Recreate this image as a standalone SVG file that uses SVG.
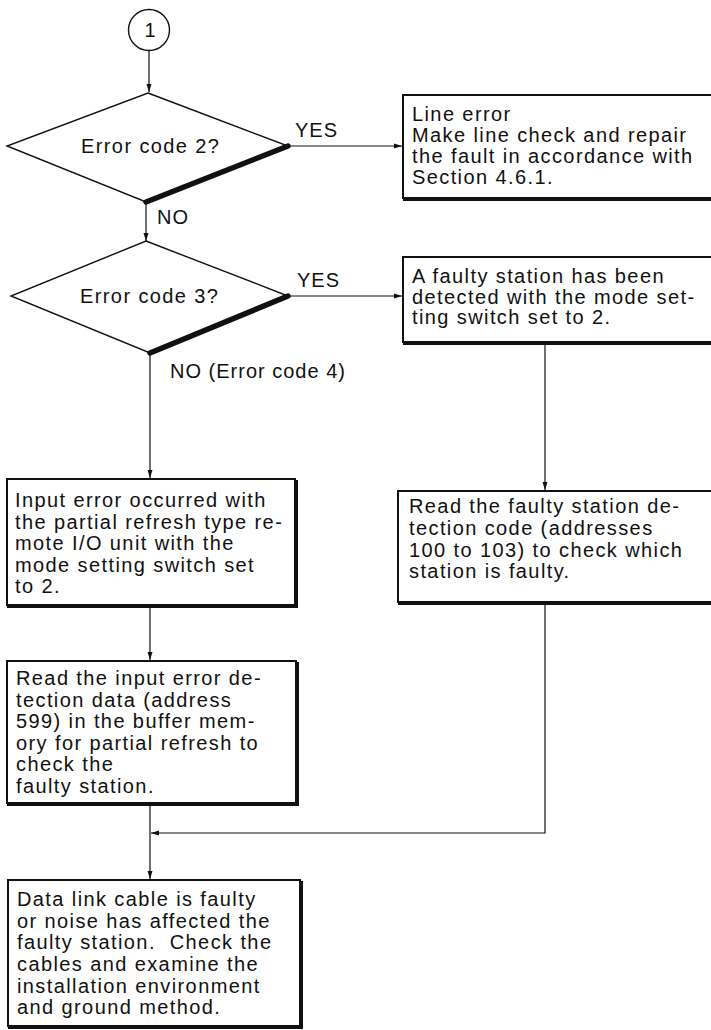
<svg xmlns="http://www.w3.org/2000/svg" width="711" height="1030" viewBox="0 0 711 1030">
<style>
text{font-family:"Liberation Sans",Arial,sans-serif;font-size:20px;letter-spacing:1.4px;fill:#111}
.lbl{font-size:20px;letter-spacing:1px}
.shape{fill:#fff;stroke:#111;stroke-width:1.4}
.box{fill:#fff;stroke:#111;stroke-width:2}
.shadow{fill:none;stroke:#111;stroke-width:4}
.thick{stroke:#111;stroke-width:5.5;stroke-linecap:round}
.conn{fill:none;stroke:#111;stroke-width:1.2}
</style>
<defs>
<marker id="ah" markerWidth="8" markerHeight="6" refX="8" refY="3" orient="auto" markerUnits="userSpaceOnUse">
<path d="M0,0.5 L8,3 L0,5.5 z" fill="#111"/>
</marker>
</defs>
<rect width="711" height="1030" fill="#fff"/>

<g id="connectors">
<path class="conn" d="M149,51 V92" marker-end="url(#ah)"/>
<path class="conn" d="M288,146 H402" marker-end="url(#ah)"/>
<path class="conn" d="M146,202 V241" marker-end="url(#ah)"/>
<path class="conn" d="M288,296 H402" marker-end="url(#ah)"/>
<path class="conn" d="M150,353 V478" marker-end="url(#ah)"/>
<path class="conn" d="M150,606 V660" marker-end="url(#ah)"/>
<path class="conn" d="M545,343 V490" marker-end="url(#ah)"/>
<path class="conn" d="M545,603 V833 H151" marker-end="url(#ah)"/>
<path class="conn" d="M150,804 V879" marker-end="url(#ah)"/>
</g>

<g id="start">
<circle class="shape" cx="149" cy="30" r="20.5"/>
<text x="150" y="37" text-anchor="middle" style="letter-spacing:0">1</text>
</g>

<g id="decision1">
<polygon class="shape" points="148,93 288,146 146,202 7,146"/>
<line class="thick" x1="288" y1="146" x2="146" y2="202"/>
<text x="81" y="153">Error code 2?</text>
</g>

<g id="decision2">
<polygon class="shape" points="146,241 288,296 150,353 11,296"/>
<line class="thick" x1="288" y1="296" x2="150" y2="353"/>
<text x="80" y="303">Error code 3?</text>
</g>

<g id="labels">
<text class="lbl" x="295" y="137">YES</text>
<text class="lbl" x="297" y="287">YES</text>
<text class="lbl" x="157" y="224">NO</text>
<text class="lbl" x="170" y="378">NO (Error code 4)</text>
</g>

<g id="box-line-error">
<rect class="box" x="403" y="95" width="320" height="103"/>
<polyline class="shadow" points="403,199 725,199"/>
<text x="412" y="121">Line error</text>
<text x="412" y="142">Make line check and repair</text>
<text x="412" y="163">the fault in accordance with</text>
<text x="412" y="184">Section 4.6.1.</text>
</g>

<g id="box-faulty-detected">
<rect class="box" x="403" y="257" width="320" height="85"/>
<polyline class="shadow" points="403,343 725,343"/>
<text x="412" y="283">A faulty station has been</text>
<text x="412" y="303.5">detected with the mode set-</text>
<text x="412" y="324">ting switch set to 2.</text>
</g>

<g id="box-read-faulty-code">
<rect class="box" x="398" y="491" width="325" height="111"/>
<polyline class="shadow" points="398,603 725,603"/>
<text x="409" y="513">Read the faulty station de-</text>
<text x="409" y="535">tection code (addresses</text>
<text x="409" y="556.5">100 to 103) to check which</text>
<text x="409" y="578">station is faulty.</text>
</g>

<g id="box-input-error">
<rect class="box" x="7" y="479" width="288" height="126"/>
<polyline class="shadow" points="296,480 296,606 7,606"/>
<text x="15" y="507">Input error occurred with</text>
<text x="15" y="528.5">the partial refresh type re-</text>
<text x="15" y="550">mote I/O unit with the</text>
<text x="15" y="571.5">mode setting switch set</text>
<text x="15" y="593">to 2.</text>
</g>

<g id="box-read-input-error">
<rect class="box" x="7" y="661" width="289" height="142"/>
<polyline class="shadow" points="297,662 297,804 7,804"/>
<text x="16" y="685">Read the input error de-</text>
<text x="16" y="706.5">tection data (address</text>
<text x="16" y="728">599) in the buffer mem-</text>
<text x="16" y="749.5">ory for partial refresh to</text>
<text x="16" y="771">check the</text>
<text x="16" y="792.5">faulty station.</text>
</g>

<g id="box-data-link">
<rect class="box" x="8" y="880" width="292" height="146"/>
<polyline class="shadow" points="301,881 301,1027 8,1027"/>
<text x="17" y="906">Data link cable is faulty</text>
<text x="17" y="927.7">or noise has affected the</text>
<text x="17" y="949.4" xml:space="preserve">faulty station.  Check the</text>
<text x="17" y="971">cables and examine the</text>
<text x="17" y="992.7">installation environment</text>
<text x="17" y="1014.4">and ground method.</text>
</g>
</svg>
